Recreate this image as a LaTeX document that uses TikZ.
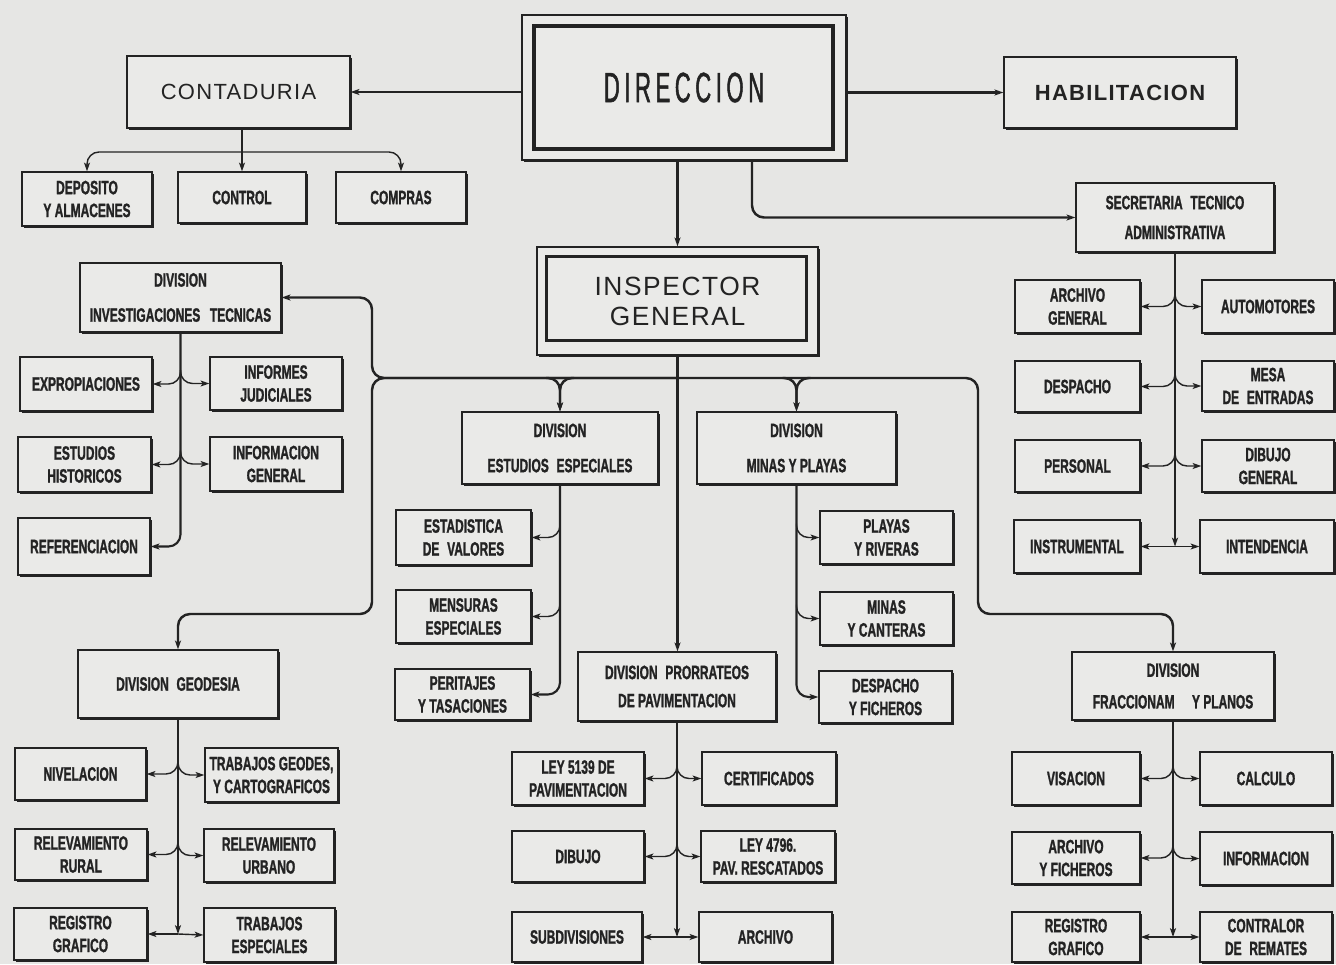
\documentclass[tikz,border=0pt]{standalone}
\usepackage{fontspec}
\setmainfont{Liberation Sans}
\newfontfamily\cf[FakeStretch=0.62,BoldFeatures={FakeBold=1.2}]{Liberation Sans}
\newfontfamily\dirf[FakeStretch=0.52,LetterSpace=11,FakeBold=1.2]{Liberation Sans}
\newfontfamily\wf[LetterSpace=6]{Liberation Sans}
\usetikzlibrary{arrows.meta,shadows,calc}
\definecolor{bg}{RGB}{230,230,228}
\definecolor{boxfill}{RGB}{234,234,232}
\definecolor{ink}{RGB}{35,35,35}
\newcommand\bx[7][]{%
 \pgfmathsetmacro\bw{(#5-#3)*0.02}%
 \pgfmathsetmacro\bh{(#6-#4)*0.02}%
 \node[box,minimum width=\bw cm,minimum height=\bh cm,#1] (#2) at ({(#3+#5)/2},{(#4+#6)/2}) {#7};}
\newcommand\forkLR[3]{%
 \draw[br,arr,rc] ($(#1.south |- #2.east)+(0,-14)$) |- (#2.east);
 \draw[br,arr,rc] ($(#1.south |- #2.east)+(0,-14)$) |- (#3.west);}
\newcommand\forkL[2]{\draw[br,arr,rc] ($(#1.south |- #2.east)+(0,-14)$) |- (#2.east);}
\newcommand\forkR[2]{\draw[br,arr,rc] ($(#1.south |- #2.west)+(0,-14)$) |- (#2.west);}
\newcommand\lastLR[3]{%
 \draw[trunk,arr] (#1.south) -- (#1.south |- #2.east);
 \draw[br,arr] (#1.south |- #2.east) -- (#2.east);
 \draw[br,arr] (#1.south |- #2.east) -- (#3.west);}
\begin{document}
\begin{tikzpicture}[x=0.02cm,y=-0.02cm,
 box/.style={draw=ink,line width=0.7pt,fill=boxfill,align=center,inner sep=1pt,text=ink,
   drop shadow={shadow xshift=1.4pt,shadow yshift=-1.4pt,fill=ink,opacity=1},
   font=\cf\bfseries\fontsize{11}{13}\selectfont},
 arr/.style={-{Stealth[length=5pt,width=3.4pt,inset=1.2pt]}},
 main/.style={draw=ink,line width=1.4pt},
 trunk/.style={draw=ink,line width=1.2pt},
 br/.style={draw=ink,line width=0.8pt},
 rc/.style={rounded corners=0.24cm}]
\fill[bg] (0,0) rectangle (1336,964);
\useasboundingbox (0,0) rectangle (1336,964);

% top level
\bx[font=\wf\fontsize{12.5}{14}\selectfont]{cont}{127}{56}{350}{128}{CONTADURIA}
\bx[font=\dirf\fontsize{24}{26}\selectfont]{dir}{522}{15}{846}{160}{DIRECCION}
\bx[font=\wf\bfseries\fontsize{12.5}{14}\selectfont]{hab}{1004}{57}{1236}{128}{HABILITACION}
\draw[ink,line width=2.2pt] ($(dir.north west)+(13,12)$) rectangle ($(dir.south east)+(-14,-12)$);

\bx{dep}{22}{172}{152}{226}{DEPOSITO\\Y ALMACENES}
\bx{ctrl}{178}{172}{306}{223}{CONTROL}
\bx{comp}{336}{172}{466}{223}{COMPRAS}
\bx{sec}{1076}{183}{1274}{252}{SECRETARIA\hspace{0.4em}TECNICO\\[4pt]ADMINISTRATIVA}
\bx[font=\wf\fontsize{15}{17}\selectfont]{insp}{537}{247}{818}{355}{INSPECTOR\\GENERAL}
\draw[ink,line width=2pt] ($(insp.north west)+(10,10)$) rectangle ($(insp.south east)+(-12,-15)$);

% left group
\bx{inv}{80}{263}{281}{332}{DIVISION\\[7pt]INVESTIGACIONES\hspace{0.5em}TECNICAS}
\bx{exp}{20}{357}{152}{411}{EXPROPIACIONES}
\bx{infj}{210}{357}{342}{410}{INFORMES\\JUDICIALES}
\bx{esth}{18}{437}{151}{492}{ESTUDIOS\\HISTORICOS}
\bx{infg}{210}{437}{342}{491}{INFORMACION\\GENERAL}
\bx{ref}{18}{518}{150}{575}{REFERENCIACION}

% secretaria group
\bx{arch}{1015}{280}{1140}{333}{ARCHIVO\\GENERAL}
\bx{auto}{1202}{280}{1334}{333}{AUTOMOTORES}
\bx{desp}{1015}{361}{1140}{412}{DESPACHO}
\bx{mesa}{1202}{361}{1334}{411}{MESA\\DE\hspace{0.4em}ENTRADAS}
\bx{pers}{1015}{440}{1140}{492}{PERSONAL}
\bx{dibg}{1202}{440}{1334}{492}{DIBUJO\\GENERAL}
\bx{instr}{1014}{520}{1140}{573}{INSTRUMENTAL}
\bx{inten}{1200}{520}{1334}{573}{INTENDENCIA}

% central divisions
\bx{ee}{462}{412}{658}{484}{DIVISION\\[7pt]ESTUDIOS\hspace{0.4em}ESPECIALES}
\bx{mp}{697}{412}{896}{484}{DIVISION\\[7pt]MINAS Y PLAYAS}
\bx{estv}{396}{510}{531}{565}{ESTADISTICA\\DE\hspace{0.4em}VALORES}
\bx{mens}{396}{590}{531}{643}{MENSURAS\\ESPECIALES}
\bx{perit}{395}{669}{530}{720}{PERITAJES\\Y TASACIONES}
\bx{play}{820}{511}{953}{564}{PLAYAS\\Y RIVERAS}
\bx{minc}{820}{592}{953}{645}{MINAS\\Y CANTERAS}
\bx{despf}{819}{671}{952}{723}{DESPACHO\\Y FICHEROS}
\bx{prorr}{578}{652}{776}{721}{DIVISION\hspace{0.4em}PRORRATEOS\\[3pt]DE PAVIMENTACION}

% geodesia group
\bx{geod}{78}{650}{278}{718}{DIVISION\hspace{0.4em}GEODESIA}
\bx{niv}{15}{748}{146}{800}{NIVELACION}
\bx{tgeo}{205}{748}{338}{802}{TRABAJOS GEODES,\\Y CARTOGRAFICOS}
\bx{relr}{15}{829}{147}{880}{RELEVAMIENTO\\RURAL}
\bx{relu}{204}{829}{334}{882}{RELEVAMIENTO\\URBANO}
\bx{regg}{14}{908}{147}{960}{REGISTRO\\GRAFICO}
\bx{tesp}{204}{908}{335}{962}{TRABAJOS\\ESPECIALES}

% prorrateos group
\bx{ley5}{512}{752}{644}{805}{LEY 5139 DE\\PAVIMENTACION}
\bx{cert}{702}{752}{836}{805}{CERTIFICADOS}
\bx{dib}{512}{831}{644}{882}{DIBUJO}
\bx{ley4}{701}{831}{835}{882}{LEY 4796.\\PAV. RESCATADOS}
\bx{subd}{512}{912}{642}{962}{SUBDIVISIONES}
\bx{archv}{699}{912}{832}{962}{ARCHIVO}

% fraccionamiento group
\bx{fracc}{1072}{652}{1274}{720}{DIVISION\\[5pt]FRACCIONAM\hspace{0.9em}Y PLANOS}
\bx{vis}{1012}{752}{1140}{805}{VISACION}
\bx{calcu}{1200}{752}{1332}{805}{CALCULO}
\bx{arfi}{1012}{832}{1140}{884}{ARCHIVO\\Y FICHEROS}
\bx{info}{1200}{832}{1332}{885}{INFORMACION}
\bx{reg2}{1012}{912}{1140}{962}{REGISTRO\\GRAFICO}
\bx{contr}{1200}{912}{1332}{962}{CONTRALOR\\DE\hspace{0.4em}REMATES}

% ---- connectors: top
\draw[main,arr] (dir.west |- cont.east) -- (cont.east);
\draw[main,arr] (dir.east |- hab.west) -- (hab.west);
\draw[main,arr] (insp.north |- dir.south) -- (insp.north);
\coordinate (ds) at (752,160);
\draw[main,arr,rc] (ds) |- (sec.west);

% contaduria
\coordinate (cbus) at (0,152);
\draw[trunk] (ctrl.north |- cont.south) -- (ctrl.north |- cbus);
\draw[br,arr,rc] (ctrl.north |- cbus) -| (dep.north);
\draw[br,arr,rc] (ctrl.north |- cbus) -| (comp.north);
\draw[br,arr] (ctrl.north |- cbus) -- (ctrl.north);

% inspector bus
\coordinate (by) at (0,378);
\coordinate (bj) at (insp.south |- by);
\coordinate (bl) at (372,378);
\coordinate (br) at (978,378);
\coordinate (gy) at (0,614);
\draw[main,arr,rc] (bj) -- (bl) |- (inv.east);
\draw[main,arr,rc] (bj) -- (bl) -- (bl |- gy) -| (geod.north);
\draw[main,arr,rc] (bj) -- (br) -- (br |- gy) -| (fracc.north);
\draw[main] (insp.south) -- (bj);
\draw[main,arr] (bj) -- (bj |- prorr.north);
\draw[main,arr,rc] ($(ee.north |- bj)+(-14,0)$) -| (ee.north);
\draw[main,arr,rc] ($(ee.north |- bj)+(14,0)$) -| (ee.north);
\draw[main,arr,rc] ($(mp.north |- bj)+(-14,0)$) -| (mp.north);
\draw[main,arr,rc] ($(mp.north |- bj)+(14,0)$) -| (mp.north);

% investigaciones
\forkLR{inv}{exp}{infj}
\forkLR{inv}{esth}{infg}
\draw[trunk,arr,rc] (inv.south) |- (ref.east);

% secretaria
\forkLR{sec}{arch}{auto}
\forkLR{sec}{desp}{mesa}
\forkLR{sec}{pers}{dibg}
\lastLR{sec}{instr}{inten}

% estudios especiales
\forkL{ee}{estv}
\forkL{ee}{mens}
\draw[trunk,arr,rc] (ee.south) |- (perit.east);

% minas y playas
\forkR{mp}{play}
\forkR{mp}{minc}
\draw[trunk,arr,rc] (mp.south) |- (despf.west);

% geodesia
\forkLR{geod}{niv}{tgeo}
\forkLR{geod}{relr}{relu}
\lastLR{geod}{regg}{tesp}

% prorrateos
\forkLR{prorr}{ley5}{cert}
\forkLR{prorr}{dib}{ley4}
\lastLR{prorr}{subd}{archv}

% fraccionamiento
\forkLR{fracc}{vis}{calcu}
\forkLR{fracc}{arfi}{info}
\lastLR{fracc}{reg2}{contr}
\end{tikzpicture}
\end{document}
